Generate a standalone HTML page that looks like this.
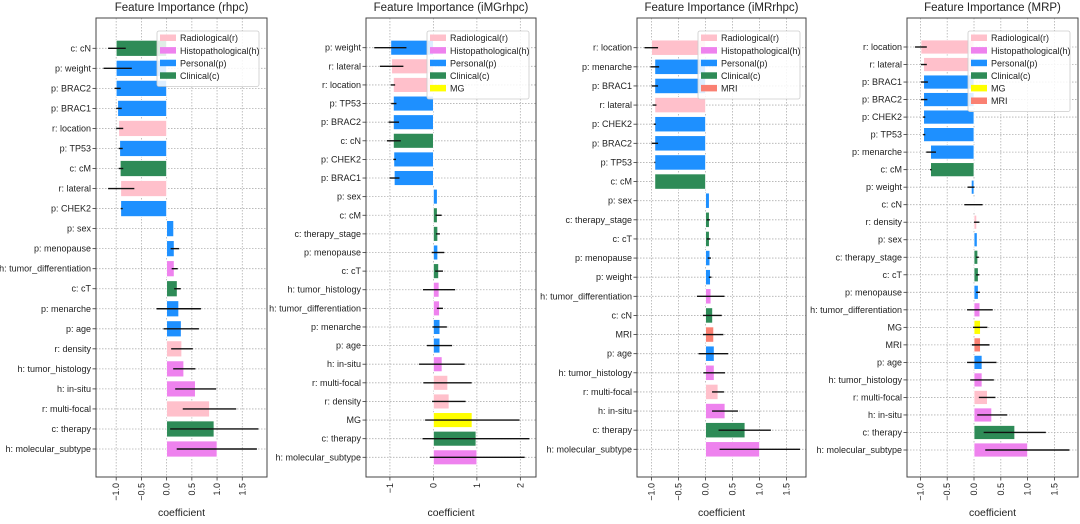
<!DOCTYPE html>
<html><head><meta charset="utf-8">
<style>
html,body{margin:0;padding:0;background:#fff;}
svg{display:block;font-family:"Liberation Sans","DejaVu Sans",sans-serif;}
</style></head>
<body>
<svg id="chart" width="1080" height="524" viewBox="0 0 1080 524" xmlns="http://www.w3.org/2000/svg"></svg>
<script>
// ---- Panel 1: rhpc ----
const p1Labels = ["c: cN","p: weight","p: BRAC2","p: BRAC1","r: location","p: TP53","c: cM","r: lateral","p: CHEK2","p: sex","p: menopause","h: tumor_differentiation","c: cT","p: menarche","p: age","r: density","h: tumor_histology","h: in-situ","r: multi-focal","c: therapy","h: molecular_subtype"];
const p1Values = [-1.0,-1.0,-1.0,-0.97,-0.95,-0.93,-0.92,-0.91,-0.91,0.14,0.15,0.15,0.21,0.24,0.29,0.30,0.34,0.57,0.85,0.94,1.0];
const p1ErrLo = [-1.16,-1.25,-1.03,-1.0,-1.0,-0.95,-0.95,-1.16,-0.91,null,0.08,0.10,0.15,-0.20,-0.06,0.09,0.13,0.17,0.32,0.07,0.20];
const p1ErrHi = [-0.81,-0.69,-0.91,-0.89,-0.86,-0.87,-0.86,-0.64,-0.87,null,0.25,0.22,0.28,0.68,0.64,0.52,0.57,0.98,1.38,1.82,1.79];
const p1Ticks = [-1.0,-0.5,0.0,0.5,1.0,1.5];
const p1TickLabels = ["−1.0","−0.5","0.0","0.5","1.0","1.5"];
const p1Legend = ["Radiological(r)","Histopathological(h)","Personal(p)","Clinical(c)"];

// ---- Panel 2: iMGrhpc ----
const p2Labels = ["p: weight","r: lateral","r: location","p: TP53","p: BRAC2","c: cN","p: CHEK2","p: BRAC1","p: sex","c: cM","c: therapy_stage","p: menopause","c: cT","h: tumor_histology","h: tumor_differentiation","p: menarche","p: age","h: in-situ","r: multi-focal","r: density","MG","c: therapy","h: molecular_subtype"];
const p2Values = [-0.98,-0.96,-0.92,-0.92,-0.92,-0.92,-0.91,-0.90,0.09,0.09,0.10,0.10,0.12,0.13,0.14,0.15,0.15,0.20,0.33,0.36,0.89,0.98,1.0];
const p2ErrLo = [-1.36,-1.23,-0.98,-0.97,-1.03,-1.07,-0.92,-1.01,null,0.05,0.06,-0.04,0.04,-0.24,0.08,-0.02,-0.15,-0.33,-0.23,-0.03,-0.19,-0.25,-0.08];
const p2ErrHi = [-0.62,-0.69,-0.88,-0.85,-0.79,-0.75,-0.86,-0.78,null,0.19,0.15,0.25,0.22,0.50,0.22,0.31,0.43,0.72,0.88,0.74,1.98,2.21,2.10];
const p2Ticks = [-1,0,1,2];
const p2TickLabels = ["−1","0","1","2"];
const p2Legend = ["Radiological(r)","Histopathological(h)","Personal(p)","Clinical(c)","MG"];

// ---- Panel 3: iMRrhpc ----
const p3Labels = ["r: location","p: menarche","p: BRAC1","r: lateral","p: CHEK2","p: BRAC2","p: TP53","c: cM","p: sex","c: therapy_stage","c: cT","p: menopause","p: weight","h: tumor_differentiation","c: cN","MRI","p: age","h: tumor_histology","r: multi-focal","h: in-situ","c: therapy","h: molecular_subtype"];
const p3Values = [-1.0,-0.94,-0.94,-0.94,-0.94,-0.94,-0.94,-0.94,0.07,0.07,0.07,0.08,0.09,0.10,0.13,0.15,0.16,0.16,0.23,0.36,0.73,1.0];
const p3ErrLo = [-1.13,-1.02,-1.0,-0.98,-0.96,-1.0,-0.95,null,null,0.02,0.02,0.04,0.06,-0.16,-0.05,-0.05,-0.13,-0.04,0.12,0.12,0.24,0.26];
const p3ErrHi = [-0.88,-0.86,-0.88,-0.91,-0.92,-0.88,-0.93,null,null,0.08,0.09,0.10,0.11,0.35,0.30,0.33,0.42,0.36,0.34,0.60,1.21,1.75];
const p3Ticks = [-1.0,-0.5,0.0,0.5,1.0,1.5];
const p3TickLabels = ["−1.0","−0.5","0.0","0.5","1.0","1.5"];
const p3Legend = ["Radiological(r)","Histopathological(h)","Personal(p)","Clinical(c)","MRI"];

// ---- Panel 4: MRP ----
const p4Labels = ["r: location","r: lateral","p: BRAC1","p: BRAC2","p: CHEK2","p: TP53","p: menarche","c: cM","p: weight","c: cN","r: density","p: sex","c: therapy_stage","c: cT","p: menopause","h: tumor_differentiation","MG","MRI","p: age","h: tumor_histology","r: multi-focal","h: in-situ","c: therapy","h: molecular_subtype"];
const p4Values = [-0.99,-0.94,-0.94,-0.94,-0.94,-0.94,-0.81,-0.81,-0.05,-0.01,0.05,0.06,0.07,0.08,0.08,0.11,0.12,0.12,0.15,0.15,0.25,0.33,0.76,1.0];
const p4ErrLo = [-1.10,-0.99,-0.99,-0.99,-0.95,-0.95,-0.89,-0.82,-0.12,-0.18,0.0,null,0.04,0.04,0.04,-0.13,-0.02,-0.04,-0.13,-0.07,0.09,0.06,0.18,0.21];
const p4ErrHi = [-0.88,-0.88,-0.86,-0.87,-0.91,-0.91,-0.71,-0.79,0.01,0.16,0.10,null,0.09,0.10,0.11,0.35,0.25,0.29,0.42,0.37,0.40,0.62,1.34,1.78];
const p4Ticks = [-1.0,-0.5,0.0,0.5,1.0,1.5];
const p4TickLabels = ["−1.0","−0.5","0.0","0.5","1.0","1.5"];
const p4Legend = ["Radiological(r)","Histopathological(h)","Personal(p)","Clinical(c)","MG","MRI"];

const NS = "http://www.w3.org/2000/svg";
const svg = document.getElementById("chart");
function mk(tag, attrs, parent){
  const e = document.createElementNS(NS, tag);
  for (const k in attrs) e.setAttribute(k, attrs[k]);
  (parent||svg).appendChild(e);
  return e;
}
function colorFor(label){
  if (label === "MG") return "#FFFF00";
  if (label === "MRI") return "#FA8072";
  const p = label.charAt(0);
  if (p === "r") return "#FFC0CB";
  if (p === "h") return "#EE82EE";
  if (p === "p") return "#1E90FF";
  return "#2E8B57";
}
const legendColors = {"Radiological(r)":"#FFC0CB","Histopathological(h)":"#EE82EE","Personal(p)":"#1E90FF","Clinical(c)":"#2E8B57","MG":"#FFFF00","MRI":"#FA8072"};

function drawPanel(cfg){
  const g = mk("g", {});
  
  
  const L = cfg.left, R = cfg.right, T = 18, B = 477;
  const xs = v => L + (v - cfg.xmin) / (cfg.xmax - cfg.xmin) * (R - L);
  const n = cfg.labels.length;
  const step = (cfg.lastY - cfg.firstY) / (n - 1);
  const ys = i => cfg.firstY + i * step;
  const bh = 0.8 * step;

  const t = mk("text", {x:(L+R)/2, y:11, "text-anchor":"middle", "font-size":"11.5", fill:"#222"}, g);
  t.textContent = cfg.title;
  
  

  cfg.ticks.forEach(v => {
    const l = mk("line", {x1:xs(v), x2:xs(v), y1:T, y2:B, stroke:"#b0b0b0", "stroke-width":"0.8", "stroke-dasharray":"1.5,1.5"}, g);
    
    
  });
  cfg.labels.forEach((lab, i) => {
    const l = mk("line", {x1:L, x2:R, y1:ys(i), y2:ys(i), stroke:"#b0b0b0", "stroke-width":"0.8", "stroke-dasharray":"1.5,1.5"}, g);
    
    
  });

  cfg.labels.forEach((lab, i) => {
    const v = cfg.values[i];
    const x0 = Math.min(xs(0), xs(v)), w = Math.abs(xs(v) - xs(0));
    const r = mk("rect", {x:x0, y:ys(i)-bh/2, width:w, height:bh, fill:colorFor(lab), stroke:"#fff", "stroke-width":"0.8"}, g);
    
    
  });
  cfg.labels.forEach((lab, i) => {
    if (cfg.errLo[i] === null) return;
    const e = mk("line", {x1:xs(cfg.errLo[i]), x2:xs(cfg.errHi[i]), y1:ys(i), y2:ys(i), stroke:"#111", "stroke-width":"1.4"}, g);
    
    
  });

  cfg.labels.forEach((lab, i) => {
    mk("line", {x1:L-3.5, x2:L, y1:ys(i), y2:ys(i), stroke:"#333", "stroke-width":"0.8"}, g);
    const tx = mk("text", {x:L-5, y:ys(i)+3, "text-anchor":"end", "font-size":"9", fill:"#222"}, g);
    tx.textContent = lab;
    
    
  });
  cfg.ticks.forEach((v, k) => {
    mk("line", {x1:xs(v), x2:xs(v), y1:B, y2:B+3.5, stroke:"#333", "stroke-width":"0.8"}, g);
    const tx = mk("text", {x:0, y:0, "text-anchor":"end", "font-size":"9", fill:"#222", transform:`translate(${xs(v)+3},${B+6}) rotate(-90)`}, g);
    tx.textContent = cfg.tickLabels[k];
    
    
  });
  const xl = mk("text", {x:(L+R)/2, y:516, "text-anchor":"middle", "font-size":"10.5", fill:"#222"}, g);
  xl.textContent = "coefficient";
  
  

  const f = mk("rect", {x:L, y:T, width:R-L, height:B-T, fill:"none", stroke:"#444", "stroke-width":"1"}, g);
  
  

  const lg = mk("g", {}, g);
  
  
  const lx = cfg.legendX, lw = 102, rowH = 12.6;
  const lh = cfg.legend.length * rowH + 5;
  mk("rect", {x:lx, y:31, width:lw, height:lh, rx:2, fill:"rgba(255,255,255,0.85)", stroke:"#ccc", "stroke-width":"0.8"}, lg);
  cfg.legend.forEach((name, k) => {
    const cy = 38 + k * rowH;
    const ent = mk("g", {}, lg);
    
    
    mk("rect", {x:lx+3, y:cy-3.5, width:16, height:6.5, fill:legendColors[name]}, ent);
    const tx = mk("text", {x:lx+23, y:cy+3.2, "font-size":"9", fill:"#222"}, ent);
    tx.textContent = name;
  });
}

drawPanel({name:"panel-rhpc", title:"Feature Importance (rhpc)", left:96, right:267, xmin:-1.40, xmax:1.99, firstY:48.3, lastY:449, labels:p1Labels, values:p1Values, errLo:p1ErrLo, errHi:p1ErrHi, ticks:p1Ticks, tickLabels:p1TickLabels, legend:p1Legend, legendX:157});
drawPanel({name:"panel-imgrhpc", title:"Feature Importance (iMGrhpc)", left:366, right:536, xmin:-1.55, xmax:2.36, firstY:47.7, lastY:457.3, labels:p2Labels, values:p2Values, errLo:p2ErrLo, errHi:p2ErrHi, ticks:p2Ticks, tickLabels:p2TickLabels, legend:p2Legend, legendX:427});
drawPanel({name:"panel-imrrhpc", title:"Feature Importance (iMRrhpc)", left:637, right:806, xmin:-1.27, xmax:1.86, firstY:47.7, lastY:449.3, labels:p3Labels, values:p3Values, errLo:p3ErrLo, errHi:p3ErrHi, ticks:p3Ticks, tickLabels:p3TickLabels, legend:p3Legend, legendX:698});
drawPanel({name:"panel-mrp", title:"Feature Importance (MRP)", left:907, right:1078, xmin:-1.25, xmax:1.94, firstY:47, lastY:450, labels:p4Labels, values:p4Values, errLo:p4ErrLo, errHi:p4ErrHi, ticks:p4Ticks, tickLabels:p4TickLabels, legend:p4Legend, legendX:968});
</script>
</body></html>
